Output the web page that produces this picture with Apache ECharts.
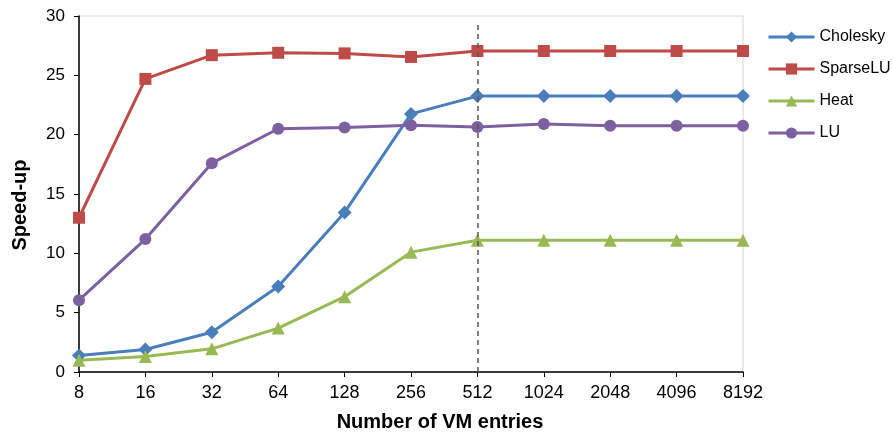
<!DOCTYPE html>
<html>
<head>
<meta charset="utf-8">
<script src="https://cdn.jsdelivr.net/npm/echarts@6/dist/echarts.min.js"></script>
<style>
html, body { margin: 0; padding: 0; background: #fff; }
#main { width: 893px; height: 437px; }
</style>
</head>
<body>
<div id="main"></div>
<script>
// x categories (VM entries)
var entries = ['8', '16', '32', '64', '128', '256', '512', '1024', '2048', '4096', '8192'];

// speed-up values
var cholesky = [1.4, 1.9, 3.35, 7.2, 13.45, 21.75, 23.25, 23.25, 23.25, 23.25, 23.25];
var sparseLU = [13.0, 24.7, 26.7, 26.9, 26.85, 26.55, 27.05, 27.05, 27.05, 27.05, 27.05];
var heat = [1.0, 1.3, 1.95, 3.7, 6.35, 10.1, 11.1, 11.1, 11.1, 11.1, 11.1];
var lu = [6.05, 11.2, 17.6, 20.5, 20.6, 20.8, 20.65, 20.9, 20.75, 20.75, 20.75];

var yTicks = [0, 5, 10, 15, 20, 25, 30];

var myChart = echarts.init(document.getElementById('main'));

function makeSeries(name, data, color, symbol, size) {
    return {
        name: name,
        type: 'line',
        data: data,
        symbol: symbol,
        symbolSize: size,
        lineStyle: { color: color, width: 3 },
        itemStyle: { color: color },
        z: 3
    };
}

var series = [
    makeSeries('Cholesky', cholesky, '#4A7EBB', 'diamond', 14),
    makeSeries('SparseLU', sparseLU, '#BE4B48', 'rect', 12),
    makeSeries('Heat', heat, '#98B954', 'triangle', 13),
    makeSeries('LU', lu, '#7D60A0', 'circle', 12)
];

// dashed marker at 512
series[0].markLine = {
    silent: true,
    symbol: 'none',
    label: { show: false },
    lineStyle: { color: '#555', type: [5, 4], width: 1.5 },
    data: [[{ coord: ['512', 0] }, { coord: ['512', 29.25] }]]
};

var option = {
    animation: false,
    textStyle: { fontFamily: 'Liberation Sans, Arial, sans-serif' },
    grid: { left: 79, right: 150, top: 16, bottom: 62, show: true, borderColor: '#d4d4d4', borderWidth: 1 },
    legend: {
        orient: 'vertical',
        left: 762,
        top: 24,
        itemWidth: 46,
        itemHeight: 14,
        itemGap: 16,
        lineStyle: { width: 3 },
        textStyle: { fontSize: 16, color: '#000' },
        data: ['Cholesky', 'SparseLU', 'Heat', 'LU']
    },
    xAxis: {
        type: 'category',
        boundaryGap: false,
        data: entries,
        name: 'Number of VM entries',
        nameLocation: 'middle',
        nameGap: 40,
        nameTextStyle: { fontSize: 20, fontWeight: 'bold', color: '#000', padding: [0, 0, 0, 58] },
        axisLine: { lineStyle: { color: '#000', width: 1.5 } },
        axisTick: { show: true, alignWithLabel: true, length: 5, lineStyle: { color: '#000' } },
        axisLabel: { fontSize: 18, color: '#000', margin: 12 },
        splitLine: { show: false }
    },
    yAxis: {
        type: 'value',
        min: yTicks[0],
        max: yTicks[yTicks.length - 1],
        interval: 5,
        name: 'Speed-up',
        nameLocation: 'middle',
        nameGap: 49,
        nameTextStyle: { fontSize: 20, fontWeight: 'bold', color: '#000', padding: [0, 22, 0, 0] },
        axisLine: { show: true, lineStyle: { color: '#000', width: 1.5 } },
        axisTick: { show: true, length: 5, lineStyle: { color: '#000' } },
        axisLabel: { fontSize: 17, color: '#000', margin: 14 },
        splitLine: { show: false }
    },
    series: series
};

myChart.setOption(option);
</script>
</body>
</html>
